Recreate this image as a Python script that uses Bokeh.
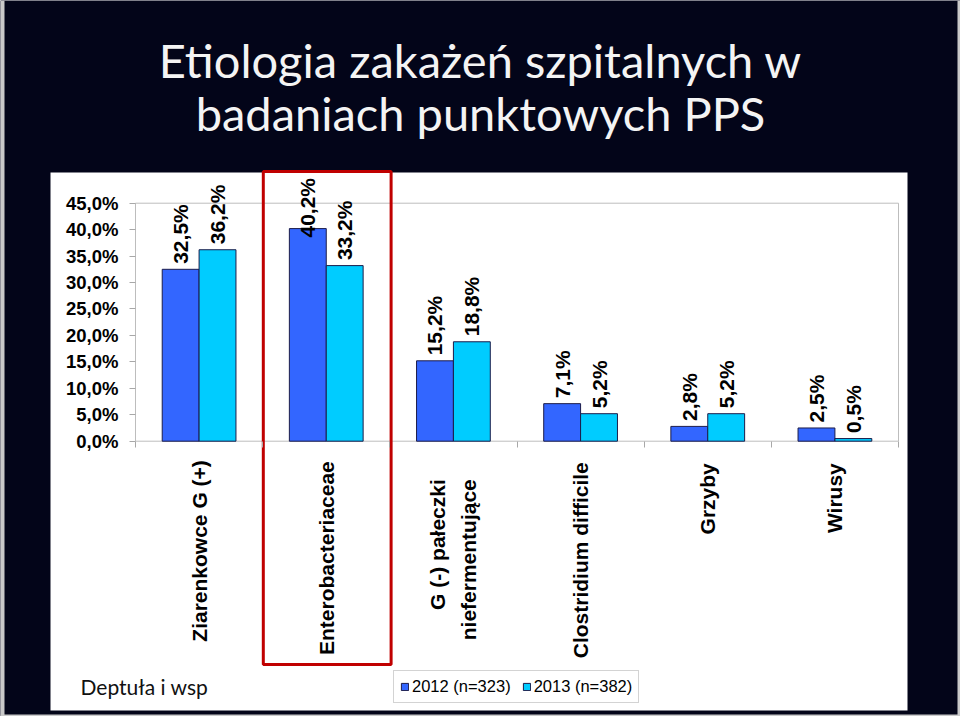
import math
from bokeh.plotting import figure
from bokeh.models import Range1d, LinearAxis, FixedTicker, Legend, LegendItem
from bokeh.core.properties import value
from bokeh.embed import file_html
from bokeh.resources import INLINE

# ---------------- data ----------------
categories = ["Ziarenkowce G (+)", "Enterobacteriaceae", "G (-) pałeczki\nniefermentujące",
              "Clostridium difficile", "Grzyby", "Wirusy"]
series_names = ["2012 (n=323)", "2013 (n=382)"]
values_2012 = [32.5, 40.2, 15.2, 7.1, 2.8, 2.5]
values_2013 = [36.2, 33.2, 18.8, 5.2, 5.2, 0.5]
y_ticks = [0, 5, 10, 15, 20, 25, 30, 35, 40, 45]
y_tick_labels = ["0,0%", "5,0%", "10,0%", "15,0%", "20,0%", "25,0%", "30,0%", "35,0%", "40,0%", "45,0%"]
title_lines = ["Etiologia zakażeń szpitalnych w", "badaniach punktowych PPS"]
source_note = "Deptuła i wsp"
highlighted_index = 1  # Enterobacteriaceae

# ---------------- layout helpers (pixels -> data) ----------------
W, H = 960, 716
PLOT_L, PLOT_R, PLOT_B, PLOT_T = 135.0, 898.0, 440.7, 202.7
N = len(categories)
CAT_W = (PLOT_R - PLOT_L) / N
PX_PCT = (PLOT_B - PLOT_T) / y_ticks[-1]


def X(px):
    return (px - PLOT_L) / CAT_W


def Y(py):
    return (PLOT_B - py) / PX_PCT


DARK = "#030519"
BLUE = "#3366FF"
CYAN = "#00CCFF"
EDGE = "#1c1c4a"
BOLD_FONT = value("Liberation Sans")

p = figure(width=W, height=H, x_range=Range1d(X(0), X(W)), y_range=Range1d(Y(H), Y(0)),
           x_axis_type=None, y_axis_type=None, toolbar_location=None, output_backend="svg",
           min_border=0, title=None, outline_line_color=None,
           background_fill_color=DARK, border_fill_color=DARK)

# slide decorations
p.quad(left=[X(0)], right=[X(4)], bottom=[Y(H)], top=[Y(0)], fill_color="#c9c9c9", line_color=None)
p.quad(left=[X(957)], right=[X(W)], bottom=[Y(H)], top=[Y(0)], fill_color="#c9c9c9", line_color=None)
p.quad(left=[X(0)], right=[X(W)], bottom=[Y(H)], top=[Y(714)], fill_color="#c9c9c9", line_color=None)
p.quad(left=[X(50)], right=[X(907)], bottom=[Y(710)], top=[Y(172)], fill_color="white", line_color=None)

# title
for line, base in zip(title_lines, [59, 112]):
    p.text(x=[X(480)], y=[Y(base)], text=[line], text_align="center", text_baseline="alphabetic",
           text_font=value("Lato"), text_font_size="47px", text_color="#f4f4f4")

# plot area frame
p.quad(left=[0], right=[N], bottom=[0], top=[y_ticks[-1]], fill_color=None,
       line_color="#bdbdbd", line_width=1)

# bars
centers = [i + 0.5 for i in range(N)]
BW = 0.29
x12 = [c - BW / 2 for c in centers]
x13 = [c + BW / 2 for c in centers]
r12 = p.vbar(x=x12, top=values_2012, bottom=0, width=BW, fill_color=BLUE, line_color=EDGE, line_width=1)
r13 = p.vbar(x=x13, top=values_2013, bottom=0, width=BW, fill_color=CYAN, line_color=EDGE, line_width=1)

# value labels (Excel pushes a label down when it would leave the chart area)
LABEL_CAP = Y(242.5)


def fmt(v):
    return f"{v:.1f}".replace(".", ",") + "%"


for xs, vals in [(x12, values_2012), (x13, values_2013)]:
    p.text(x=xs, y=[min(v, LABEL_CAP) for v in vals], text=[fmt(v) for v in vals],
           angle=math.pi / 2, text_align="left", text_baseline="middle", y_offset=-5.5,
           text_font=BOLD_FONT, text_font_style="bold", text_font_size="21px", text_color="black")

# y axis
yax = LinearAxis(fixed_location=0, ticker=FixedTicker(ticks=y_ticks),
                 major_label_overrides={t: l for t, l in zip(y_ticks, y_tick_labels)})
yax.axis_line_color = None
yax.major_tick_in = 0
yax.major_tick_out = 6
yax.major_tick_line_color = "#a8a8a8"
yax.minor_tick_line_color = None
yax.major_label_standoff = 11
yax.major_label_text_font = "Liberation Sans"
yax.major_label_text_font_style = "bold"
yax.major_label_text_font_size = "18.5px"
yax.major_label_text_color = "black"
p.add_layout(yax, "left")

# x axis ticks at category boundaries
xax = LinearAxis(fixed_location=0, ticker=FixedTicker(ticks=list(range(N + 1))))
xax.axis_line_color = None
xax.major_tick_in = 0
xax.major_tick_out = 6
xax.major_tick_line_color = "#a8a8a8"
xax.minor_tick_line_color = None
xax.major_label_text_color = None
xax.major_label_text_font_size = "1px"
p.add_layout(xax, "below")

# category labels
pad = [19, 20, 38, 21, 22, 22]
p.text(x=centers, y=[0] * N, text=categories, angle=math.pi / 2, text_align="right",
       text_baseline="middle", y_offset=pad, text_line_height=1.35,
       text_font=BOLD_FONT, text_font_style="bold", text_font_size="21px", text_color="black")

# highlight box around Enterobacteriaceae
p.quad(left=[highlighted_index + 0.005], right=[highlighted_index + 1.01], bottom=[Y(664)], top=[Y(171)],
       fill_color=None, line_color="#c00000", line_width=3)

# source note
p.text(x=[X(80)], y=[Y(686)], text=[source_note], text_align="left", text_baseline="alphabetic",
       text_font=value("Lato"), text_font_size="21px", text_color="#111111")

# legend
legend = Legend(items=[LegendItem(label=series_names[0], renderers=[r12]),
                       LegendItem(label=series_names[1], renderers=[r13])],
                orientation="horizontal", location=(393, H - 703), margin=0,
                glyph_width=9, glyph_height=9, label_height=17, padding=6, spacing=11,
                label_standoff=3, label_text_font="Liberation Sans", label_text_font_size="16.5px",
                label_text_color="black", border_line_color="#a8a8a8", border_line_width=1,
                background_fill_color="white", background_fill_alpha=1.0)
p.add_layout(legend)

open("out.html", "w").write(file_html(p, INLINE))
